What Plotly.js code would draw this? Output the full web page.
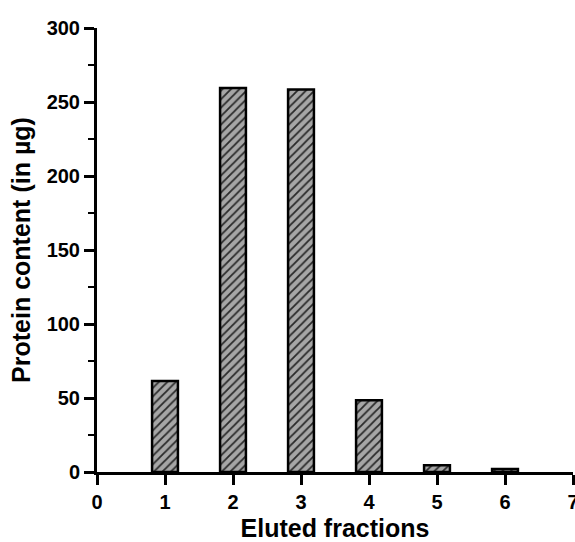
<!DOCTYPE html>
<html>
<head>
<meta charset="utf-8">
<script src="https://cdn.plot.ly/plotly-3.0.1.min.js"></script>
<style>html,body{margin:0;padding:0;background:#fff;}#chart{width:575px;height:542px;}</style>
</head>
<body>
<div id="chart"></div>
<script>
const fractions = [1, 2, 3, 4, 5, 6];
const protein = [61.5, 259.5, 258.5, 48.5, 4.5, 2];
const xTicks = [0, 1, 2, 3, 4, 5, 6, 7];
const yTicks = [0, 50, 100, 150, 200, 250, 300];

const FAM = 'Liberation Sans, Arial, sans-serif';

const trace = {
  type: 'bar',
  x: fractions,
  y: protein,
  width: 0.38,
  marker: {
    color: '#a6a6a6',
    line: {color: '#000', width: 2.5},
    pattern: {shape: '/', fgcolor: '#2a2a2a', bgcolor: '#a6a6a6', size: 6, solidity: 0.3}
  },
  hoverinfo: 'none'
};

const layout = {
  width: 575, height: 542,
  margin: {l: 97, r: 2, t: 28, b: 70},
  paper_bgcolor: '#fff', plot_bgcolor: '#fff',
  showlegend: false,
  font: {family: FAM, size: 20, color: '#000', weight: 'bold'},
  xaxis: {
    range: [0, 7],
    tickmode: 'array', tickvals: xTicks, ticktext: xTicks.map(String),
    ticks: 'outside', ticklen: 10, tickwidth: 3, tickcolor: '#000',
    ticklabeloverflow: 'allow',
    showline: true, linewidth: 3, linecolor: '#000',
    showgrid: false, zeroline: false,
    tickfont: {family: FAM, size: 20, color: '#000', weight: 'bold'},
    title: {text: 'Eluted fractions', font: {family: FAM, size: 25, color: '#000', weight: 'bold'}, standoff: 17}
  },
  yaxis: {
    range: [0, 300],
    tickmode: 'array', tickvals: yTicks, ticktext: yTicks.map(String),
    ticks: 'outside', ticklen: 10, tickwidth: 3, tickcolor: '#000',
    minor: {dtick: 25, ticks: 'outside', ticklen: 6, tickwidth: 2.5, tickcolor: '#000', showgrid: false},
    showline: true, linewidth: 3, linecolor: '#000',
    showgrid: false, zeroline: false,
    tickfont: {family: FAM, size: 20, color: '#000', weight: 'bold'},
    title: {text: 'Protein content (in µg)', font: {family: FAM, size: 25, color: '#000', weight: 'bold'}, standoff: 9}
  }
};

Plotly.newPlot('chart', [trace], layout, {staticPlot: true, displayModeBar: false});
</script>
</body>
</html>
